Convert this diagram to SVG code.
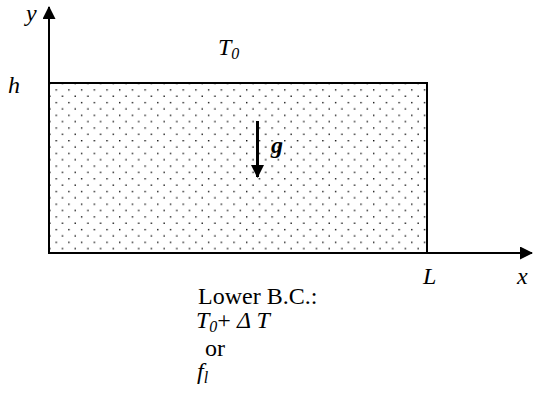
<svg xmlns="http://www.w3.org/2000/svg" width="534" height="399" viewBox="0 0 534 399">
<style>
.t{font-family:"Liberation Serif","Times New Roman",serif;font-size:24px;fill:#000}
.i{font-style:italic}
.ax{stroke:#000;stroke-width:2;fill:none}
</style>
<defs>
<pattern id="dots" patternUnits="userSpaceOnUse" x="55.5" y="89.2" width="12.7" height="12.7">
<rect x="0" y="0" width="1.4" height="1.4" fill="#111"/>
<rect x="6.35" y="6.35" width="1.4" height="1.4" fill="#111"/>
</pattern>
<marker id="ah" markerWidth="13" markerHeight="13" refX="12" refY="6.5" orient="auto" markerUnits="userSpaceOnUse">
<path d="M0,0 L13,6.5 L0,13 Z" fill="#000"/>
</marker>
</defs>
<g id="domain">
<rect x="49" y="83" width="378" height="170" fill="url(#dots)"/>
<path d="M49,83 H427 V253" class="ax" stroke-width="1.5"/>
</g>
<g id="connectors">
<line id="y-axis" x1="49" y1="253" x2="49" y2="7" class="ax" marker-end="url(#ah)"/>
<line id="x-axis" x1="48" y1="253" x2="532" y2="253" class="ax" marker-end="url(#ah)"/>
<line id="gravity" x1="257.5" y1="121" x2="257.5" y2="177" stroke="#000" stroke-width="3" marker-end="url(#ah)"/>
</g>
<g id="labels">
<text class="t i" x="26" y="21">y</text>
<text class="t i" x="8" y="93">h</text>
<text class="t i" x="218" y="55">T<tspan font-size="16" dy="4">0</tspan></text>
<text class="t i" x="271" y="153" font-weight="bold">g</text>
<text class="t i" x="423" y="284">L</text>
<text class="t i" x="517" y="284">x</text>
<text class="t" x="198" y="304">Lower B.C.:</text>
<text class="t" x="196" y="328"><tspan class="i">T</tspan><tspan class="i" font-size="16" dy="4">0</tspan><tspan dy="-4">+ </tspan><tspan class="i">Δ T</tspan></text>
<text class="t" x="205" y="356">or</text>
<text class="t i" x="197" y="379">f<tspan font-size="16" dy="4">l</tspan></text>
</g>
</svg>
